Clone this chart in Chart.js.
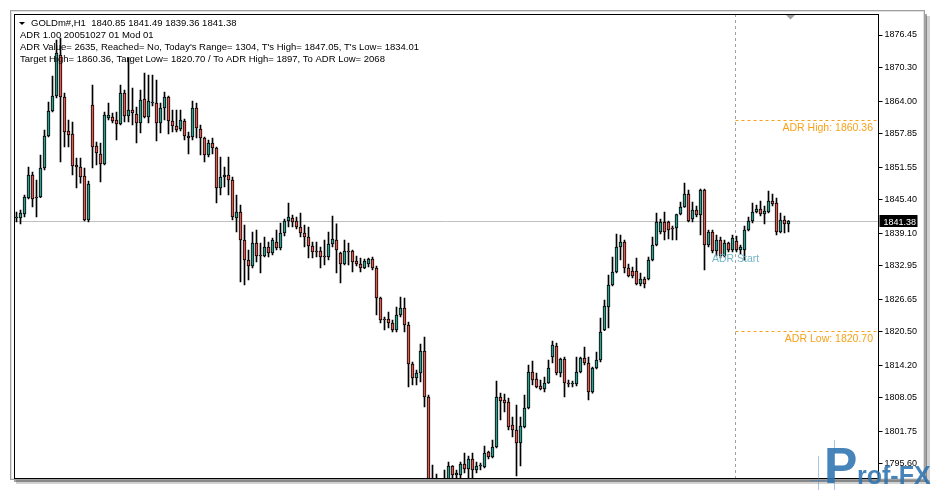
<!DOCTYPE html>
<html>
<head>
<meta charset="utf-8">
<script src="https://cdn.jsdelivr.net/npm/chart.js@4.4.1/dist/chart.umd.min.js"></script>
<style>
body { margin: 0; background: #fff; }
#wrap { width: 937px; height: 490px; }
</style>
</head>
<body>
<div id="wrap"><canvas id="goldChart"></canvas></div>
<script>
// GOLDm#, H1 candles (oldest first)
const opens = [
  1841.96, 1841.96, 1842.71, 1845.73, 1850.07, 1845.73, 1845.92, 1851.38, 1857.42, 1862.13,
  1864.95, 1872.69, 1864.77, 1858.36, 1857.80, 1851.95, 1851.57, 1849.88, 1841.59, 1863.26,
  1855.53, 1854.03, 1852.14, 1860.81, 1861.00, 1860.43, 1859.67, 1865.52, 1861.19, 1862.32,
  1861.57, 1859.86, 1864.39, 1861.00, 1863.64, 1863.64, 1859.86, 1862.69, 1864.77, 1860.24,
  1859.30, 1858.74, 1860.24, 1857.42, 1857.23, 1862.69, 1858.74, 1857.04, 1853.84, 1856.09,
  1855.15, 1847.61, 1849.69, 1850.07, 1849.12, 1841.96, 1843.09, 1837.82, 1834.05, 1832.92,
  1837.25, 1834.99, 1834.80, 1836.50, 1835.37, 1837.44, 1836.31, 1839.13, 1841.40, 1841.96,
  1841.40, 1840.27, 1839.13, 1838.38, 1836.69, 1835.74, 1835.74, 1834.80, 1834.61, 1837.06,
  1837.82, 1835.37, 1833.29, 1835.74, 1835.74, 1833.86, 1833.29, 1832.54, 1833.29, 1834.23,
  1832.54, 1826.89, 1822.93, 1822.93, 1822.17, 1820.85, 1823.68, 1825.00, 1821.80, 1814.45,
  1811.81, 1812.75, 1816.89, 1808.22, 1789.76, 1790.70, 1789.76, 1790.32, 1790.70, 1795.22,
  1793.53, 1793.53, 1795.60, 1794.66, 1796.54, 1794.47, 1795.22, 1795.03, 1797.86, 1796.92,
  1798.80, 1808.22, 1807.66, 1807.28, 1802.95, 1802.01, 1799.56, 1802.58, 1806.15, 1812.94,
  1811.62, 1810.30, 1809.73, 1810.86, 1815.76, 1817.84, 1812.75, 1815.39, 1810.86, 1810.67,
  1810.67, 1812.94, 1815.58, 1814.63, 1809.17, 1813.69, 1815.20, 1820.85, 1825.19, 1829.33,
  1831.78, 1836.50, 1837.44, 1832.54, 1831.97, 1831.97, 1829.52, 1830.46, 1830.46, 1834.05,
  1836.88, 1839.32, 1841.21, 1841.21, 1840.08, 1840.08, 1842.71, 1844.04, 1846.49, 1841.78,
  1843.47, 1842.53, 1847.24, 1836.88, 1839.32, 1835.74, 1837.82, 1834.80, 1837.25, 1835.93,
  1837.63, 1835.93, 1835.93, 1839.70, 1841.40, 1843.09, 1843.66, 1842.71, 1843.09, 1845.17,
  1844.79, 1839.32, 1841.59, 1840.85
];
const highs = [
  1843.09, 1843.47, 1846.30, 1851.57, 1850.63, 1849.12, 1853.84, 1858.55, 1863.82, 1868.72,
  1875.51, 1875.89, 1865.52, 1860.43, 1860.05, 1853.27, 1853.27, 1851.38, 1848.93, 1867.03,
  1856.28, 1856.09, 1861.94, 1863.64, 1861.75, 1861.94, 1867.03, 1866.09, 1872.12, 1866.46,
  1862.89, 1866.09, 1869.29, 1868.91, 1868.91, 1867.97, 1863.64, 1865.71, 1864.95, 1862.32,
  1862.32, 1862.32, 1860.62, 1858.17, 1864.01, 1863.64, 1859.49, 1857.23, 1856.66, 1857.04,
  1855.34, 1853.46, 1851.57, 1853.46, 1849.69, 1846.30, 1844.41, 1840.65, 1835.93, 1839.32,
  1839.70, 1837.25, 1838.38, 1837.44, 1838.19, 1839.70, 1841.02, 1841.78, 1844.79, 1842.53,
  1842.15, 1842.90, 1840.65, 1840.27, 1837.44, 1837.44, 1836.50, 1837.82, 1839.32, 1842.34,
  1840.84, 1835.55, 1837.82, 1837.25, 1835.93, 1834.80, 1834.42, 1834.23, 1834.42, 1834.61,
  1832.92, 1827.07, 1823.31, 1824.24, 1822.74, 1825.19, 1827.07, 1826.89, 1822.36, 1814.82,
  1813.31, 1818.22, 1819.53, 1808.60, 1795.41, 1793.72, 1792.20, 1794.47, 1795.97, 1795.30,
  1794.47, 1795.97, 1797.67, 1797.11, 1797.67, 1795.97, 1795.79, 1798.99, 1798.05, 1800.12,
  1811.24, 1808.97, 1808.79, 1808.03, 1804.46, 1806.72, 1804.46, 1808.60, 1814.25, 1815.01,
  1812.75, 1811.43, 1812.00, 1815.20, 1818.78, 1818.40, 1815.58, 1815.76, 1811.43, 1811.24,
  1815.76, 1815.76, 1817.65, 1815.76, 1813.88, 1816.71, 1823.11, 1826.51, 1831.22, 1834.61,
  1838.95, 1838.76, 1837.82, 1833.29, 1832.73, 1834.42, 1831.59, 1830.84, 1834.61, 1838.38,
  1842.90, 1841.78, 1843.09, 1841.40, 1840.46, 1842.71, 1844.98, 1848.55, 1847.24, 1844.98,
  1844.23, 1847.43, 1847.43, 1839.70, 1839.70, 1838.76, 1838.38, 1837.82, 1837.44, 1838.76,
  1838.57, 1836.88, 1840.46, 1842.15, 1844.79, 1844.41, 1845.17, 1844.23, 1847.05, 1846.49,
  1845.73, 1842.90, 1842.34, 1841.49
];
const lows = [
  1841.21, 1840.84, 1842.15, 1845.55, 1844.04, 1842.15, 1845.80, 1851.01, 1857.23, 1861.94,
  1864.58, 1852.51, 1855.34, 1855.34, 1850.07, 1847.61, 1848.55, 1841.40, 1841.21, 1851.38,
  1851.95, 1848.75, 1851.95, 1860.43, 1859.86, 1856.66, 1859.49, 1860.05, 1860.05, 1859.49,
  1856.09, 1857.98, 1860.81, 1859.86, 1863.07, 1856.47, 1857.98, 1860.43, 1857.80, 1858.17,
  1858.17, 1858.36, 1856.66, 1854.03, 1856.66, 1857.04, 1853.84, 1852.51, 1853.46, 1854.03,
  1844.79, 1846.30, 1847.80, 1846.30, 1841.59, 1839.32, 1829.90, 1829.33, 1830.28, 1832.54,
  1833.67, 1831.59, 1834.61, 1834.61, 1834.99, 1835.93, 1835.93, 1838.57, 1840.27, 1840.27,
  1839.89, 1838.38, 1836.50, 1834.42, 1834.42, 1834.61, 1832.54, 1833.11, 1834.05, 1836.50,
  1831.59, 1829.71, 1833.11, 1833.11, 1831.78, 1832.92, 1831.78, 1832.40, 1832.73, 1832.16,
  1823.68, 1822.17, 1820.85, 1821.23, 1820.47, 1820.47, 1823.31, 1820.47, 1810.11, 1810.49,
  1810.49, 1811.06, 1806.34, 1788.81, 1788.81, 1788.81, 1787.87, 1788.81, 1789.76, 1792.96,
  1792.20, 1792.58, 1793.91, 1792.77, 1792.77, 1793.91, 1794.47, 1794.85, 1796.54, 1796.73,
  1798.61, 1803.89, 1805.40, 1802.01, 1800.69, 1793.34, 1795.22, 1802.39, 1805.96, 1810.49,
  1809.92, 1809.54, 1809.17, 1810.77, 1814.63, 1812.37, 1812.00, 1808.22, 1810.11, 1810.11,
  1810.30, 1812.75, 1814.25, 1807.66, 1808.97, 1813.50, 1814.82, 1820.75, 1821.23, 1829.14,
  1831.59, 1834.05, 1831.59, 1830.84, 1830.65, 1829.33, 1829.14, 1828.77, 1830.28, 1833.86,
  1836.69, 1838.95, 1837.82, 1838.00, 1837.82, 1837.82, 1842.53, 1843.95, 1841.21, 1841.21,
  1842.15, 1838.76, 1832.16, 1836.50, 1835.37, 1834.80, 1834.42, 1834.61, 1835.55, 1835.55,
  1835.55, 1835.18, 1834.01, 1839.51, 1841.02, 1842.90, 1842.34, 1840.84, 1842.90, 1844.23,
  1838.76, 1839.13, 1839.13, 1839.36
];
const closes = [
  1842.15, 1842.90, 1845.92, 1850.07, 1845.55, 1845.92, 1851.38, 1857.42, 1862.13, 1864.95,
  1873.06, 1864.77, 1858.17, 1857.61, 1851.76, 1851.57, 1849.69, 1841.59, 1848.37, 1855.34,
  1854.21, 1852.14, 1861.38, 1861.38, 1860.24, 1859.67, 1865.52, 1861.19, 1862.32, 1861.75,
  1859.86, 1864.20, 1861.00, 1864.01, 1863.82, 1859.86, 1862.69, 1864.77, 1860.24, 1859.30,
  1858.55, 1860.43, 1857.42, 1857.04, 1862.69, 1858.92, 1857.04, 1853.84, 1856.09, 1855.15,
  1847.61, 1849.69, 1850.07, 1849.12, 1842.15, 1843.09, 1837.82, 1834.05, 1832.92, 1837.25,
  1834.80, 1834.80, 1836.50, 1835.37, 1837.82, 1836.31, 1839.13, 1841.40, 1842.15, 1841.21,
  1840.27, 1839.13, 1838.38, 1836.69, 1835.55, 1835.55, 1834.61, 1834.61, 1837.06, 1838.00,
  1835.93, 1833.29, 1835.74, 1835.55, 1833.67, 1833.29, 1832.54, 1833.86, 1834.23, 1832.54,
  1826.89, 1822.74, 1822.74, 1822.17, 1820.85, 1823.68, 1825.00, 1821.80, 1814.45, 1811.81,
  1812.75, 1816.89, 1808.22, 1789.76, 1790.70, 1789.76, 1790.32, 1791.64, 1795.22, 1793.53,
  1793.91, 1795.60, 1794.66, 1796.54, 1794.47, 1795.22, 1795.30, 1797.67, 1796.92, 1798.80,
  1808.22, 1807.47, 1807.09, 1802.58, 1802.01, 1799.56, 1802.76, 1806.15, 1812.94, 1811.43,
  1810.11, 1809.73, 1810.86, 1813.69, 1818.02, 1812.75, 1815.39, 1810.86, 1810.67, 1810.77,
  1812.94, 1815.58, 1814.63, 1809.17, 1813.69, 1815.20, 1820.47, 1825.38, 1829.33, 1831.78,
  1836.50, 1837.44, 1832.54, 1831.03, 1831.03, 1829.52, 1830.46, 1829.52, 1834.05, 1836.88,
  1841.21, 1841.21, 1839.32, 1839.70, 1839.89, 1842.60, 1844.04, 1846.49, 1841.40, 1843.47,
  1842.53, 1847.24, 1836.88, 1839.32, 1835.74, 1837.82, 1834.80, 1837.25, 1835.93, 1838.19,
  1835.93, 1836.50, 1839.70, 1841.40, 1843.09, 1843.66, 1842.71, 1843.28, 1845.17, 1844.60,
  1839.32, 1841.59, 1840.84, 1841.38
];

const priceTicks = [1876.45, 1870.30, 1864.00, 1857.85, 1851.55, 1845.40, 1839.10,
                    1832.95, 1826.65, 1820.50, 1814.20, 1808.05, 1801.75, 1795.60];

const lastPrice = 1841.38;
const adrHigh = 1860.36;
const adrLow = 1820.70;
const adrStartBar = 180;
const shiftBars = 22; // empty space right of the last bar

const headerLines = [
  'GOLDm#,H1  1840.85 1841.49 1839.36 1841.38',
  'ADR 1.00 20051027 01 Mod 01',
  "ADR Value= 2635, Reached= No, Today's Range= 1304, T's High= 1847.05, T's Low= 1834.01",
  'Target High= 1860.36, Target Low= 1820.70 / To ADR High= 1897, To ADR Low= 2068'
];

const bullColor = '#2f9e8f';
const bearColor = '#df5b52';
const adrColor = '#f7a21b';

const labels = [];
for (let i = 0; i < opens.length + shiftBars; i++) labels.push(String(i));

const bodies = opens.map((o, i) => [o, closes[i]]);
const wicks = lows.map((l, i) => [l, highs[i]]);
const bodyColors = opens.map((o, i) => closes[i] >= o ? bullColor : bearColor);

const FONT = '"Liberation Sans", Arial, sans-serif';

// window frame, price line, ADR levels and texts
const mtDecor = {
    id: 'mtDecor',
    beforeDraw(chart) {
        const ctx = chart.ctx;
        ctx.save();
        ctx.fillStyle = '#fff';
        ctx.fillRect(0, 0, chart.width, chart.height);
        // drop shadow
        ctx.fillStyle = 'rgba(0,0,0,0.18)';
        ctx.fillRect(16, 480, 914, 4);
        ctx.fillRect(926, 16, 4, 468);
        ctx.fillStyle = 'rgba(0,0,0,0.35)';
        ctx.fillRect(14, 480, 913, 2);
        ctx.fillRect(925, 14, 2, 468);
        // window border
        ctx.strokeStyle = '#a0a0a0';
        ctx.lineWidth = 1;
        ctx.strokeRect(10.5, 10.5, 914, 469);
        ctx.strokeStyle = '#e0e0e0';
        ctx.strokeRect(11.5, 11.5, 912, 467);
        ctx.restore();
    },
    beforeDatasetsDraw(chart) {
        const ctx = chart.ctx;
        const a = chart.chartArea;
        const x = chart.scales.x;
        const y = chart.scales.y;
        ctx.save();
        // bid line
        const py = Math.round(y.getPixelForValue(lastPrice)) + 0.5;
        ctx.strokeStyle = '#c0c0c0';
        ctx.lineWidth = 1;
        ctx.beginPath();
        ctx.moveTo(a.left, py);
        ctx.lineTo(a.right, py);
        ctx.stroke();
        // ADR start
        const sx = Math.round(x.getPixelForValue(adrStartBar) - 2) + 0.5;
        ctx.strokeStyle = '#a0a0a0';
        ctx.setLineDash([3, 3]);
        ctx.beginPath();
        ctx.moveTo(sx, a.top);
        ctx.lineTo(sx, a.bottom);
        ctx.stroke();
        // ADR high / low
        ctx.strokeStyle = adrColor;
        [adrHigh, adrLow].forEach(v => {
            const ly = Math.round(y.getPixelForValue(v)) + 0.5;
            ctx.beginPath();
            ctx.moveTo(sx, ly);
            ctx.lineTo(a.right, ly);
            ctx.stroke();
        });
        ctx.setLineDash([]);
        ctx.restore();
    },
    afterDraw(chart) {
        const ctx = chart.ctx;
        const a = chart.chartArea;
        const y = chart.scales.y;
        ctx.save();
        // chart frame
        ctx.strokeStyle = '#000';
        ctx.lineWidth = 1;
        ctx.strokeRect(14.5, 14.5, a.right - 14.5, a.bottom - 14);

        // shift marker
        ctx.fillStyle = '#a0a0a0';
        ctx.beginPath();
        ctx.moveTo(786, 15);
        ctx.lineTo(795, 15);
        ctx.lineTo(790.5, 19.5);
        ctx.closePath();
        ctx.fill();

        // header
        ctx.fillStyle = '#000';
        ctx.font = '9.5px ' + FONT;
        ctx.textBaseline = 'alphabetic';
        ctx.beginPath();
        ctx.moveTo(19, 22);
        ctx.lineTo(25, 22);
        ctx.lineTo(22, 25);
        ctx.closePath();
        ctx.fill();
        ctx.fillText(headerLines[0], 31, 26);
        for (let i = 1; i < headerLines.length; i++) {
            ctx.fillText(headerLines[i], 20, 26 + 12 * i);
        }

        // ADR labels
        ctx.font = '10.5px ' + FONT;
        ctx.fillStyle = adrColor;
        ctx.textAlign = 'right';
        ctx.fillText('ADR High: ' + adrHigh.toFixed(2), 873, y.getPixelForValue(adrHigh) + 11);
        ctx.fillText('ADR Low: ' + adrLow.toFixed(2), 873, y.getPixelForValue(adrLow) + 11);
        ctx.textAlign = 'left';
        ctx.fillStyle = '#74b6c9';
        ctx.fillText('ADR Start', 712, 262);

        // current price box
        const py = Math.round(y.getPixelForValue(lastPrice));
        ctx.fillStyle = '#000';
        ctx.fillRect(a.right + 1, py - 6, 38, 12);
        ctx.fillStyle = '#fff';
        ctx.font = '9px ' + FONT;
        ctx.fillText(lastPrice.toFixed(2), a.right + 5, py + 4);

        // watermark
        ctx.strokeStyle = 'rgba(60,130,190,0.45)';
        ctx.beginPath();
        ctx.moveTo(818.5, 456);
        ctx.lineTo(818.5, 490);
        ctx.moveTo(834.5, 440);
        ctx.lineTo(834.5, 490);
        ctx.moveTo(810, 480.5);
        ctx.lineTo(826, 480.5);
        ctx.stroke();
        ctx.fillStyle = 'rgba(45,115,175,0.88)';
        ctx.font = 'bold 50px ' + FONT;
        ctx.fillText('P', 824, 483);
        ctx.font = 'bold 25px ' + FONT;
        ctx.fillText('rof-FX', 857, 484);
        ctx.restore();
    }
};

new Chart(document.getElementById('goldChart'), {
    type: 'bar',
    data: {
        labels: labels,
        datasets: [{
            label: 'Body',
            data: bodies,
            backgroundColor: bodyColors,
            borderColor: '#000',
            borderWidth: 1,
            borderSkipped: false,
            barThickness: 3,
            minBarLength: 1,
            grouped: false,
            order: 0,
            clip: 0
        }, {
            label: 'Wick',
            data: wicks,
            backgroundColor: '#000',
            borderWidth: 0,
            barThickness: 1,
            grouped: false,
            order: 1,
            clip: 0
        }]
    },
    options: {
        responsive: true,
        maintainAspectRatio: false,
        animation: false,
        layout: {
            padding: {left: 14.5, right: 13, top: 14, bottom: 12}
        },
        plugins: {
            legend: {display: false},
            tooltip: {enabled: false}
        },
        scales: {
            x: {
                display: false,
                offset: true
            },
            y: {
                position: 'right',
                min: 1792.96,
                max: 1880.41,
                afterBuildTicks: (scale) => {
                    scale.ticks = priceTicks.map(v => ({value: v}));
                },
                afterFit: (scale) => {
                    scale.width = 45.5;
                },
                ticks: {
                    autoSkip: false,
                    padding: 2,
                    color: '#000',
                    font: {family: FONT, size: 9},
                    callback: (v) => Number(v).toFixed(2)
                },
                grid: {
                    drawOnChartArea: false,
                    drawTicks: true,
                    tickLength: 4,
                    color: '#000'
                },
                border: {display: true, color: '#000'}
            }
        }
    },
    plugins: [mtDecor]
});
</script>
</body>
</html>
